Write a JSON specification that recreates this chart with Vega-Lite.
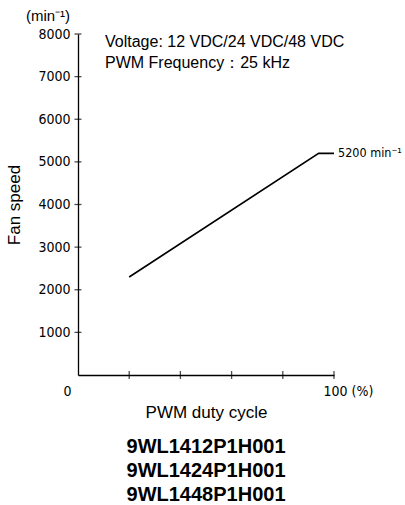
{
  "$schema": "https://vega.github.io/schema/vega-lite/v6.json",
  "width": 256,
  "height": 341,
  "autosize": {"type": "none"},
  "padding": {"left": 78, "top": 34, "right": 71, "bottom": 130},
  "background": "white",
  "config": {"view": {"stroke": null}, "font": "Liberation Sans"},
  "title": {
    "text": ["9WL1412P1H001", "9WL1424P1H001", "9WL1448P1H001"],
    "orient": "bottom",
    "anchor": "middle",
    "font": "Liberation Sans",
    "fontSize": 20,
    "fontWeight": "bold",
    "lineHeight": 24,
    "color": "black",
    "offset": 17
  },
  "datasets": {
    "curve": [
      {"duty": 20, "speed": 2300},
      {"duty": 94, "speed": 5200},
      {"duty": 100, "speed": 5200}
    ],
    "endLabel": [{"duty": 100, "speed": 5200, "label": "5200 min⁻¹"}],
    "yticks": [
      {"speed": 1000}, {"speed": 2000}, {"speed": 3000}, {"speed": 4000},
      {"speed": 5000}, {"speed": 6000}, {"speed": 7000}, {"speed": 8000}
    ],
    "xticks": [{"duty": 20}, {"duty": 40}, {"duty": 60}, {"duty": 80}, {"duty": 100}],
    "notes": [{"lines": ["Voltage: 12 VDC/24 VDC/48 VDC", "PWM Frequency：25 kHz"]}],
    "unit": [{"label": "(min⁻¹)"}]
  },
  "layer": [
    {
      "data": {"name": "curve"},
      "mark": {"type": "line", "color": "black", "strokeWidth": 1.6},
      "encoding": {
        "x": {
          "field": "duty",
          "type": "quantitative",
          "scale": {"domain": [0, 100], "nice": false, "zero": false},
          "axis": {
            "values": [0, 100],
            "labelExpr": "datum.value == 0 ? '0' : '100 (%)'",
            "ticks": false,
            "grid": false,
            "domainColor": "black",
            "domainWidth": 1.3,
            "labelFont": "DejaVu Sans Condensed",
            "labelFontSize": 14,
            "labelColor": "black",
            "labelPadding": 9,
            "labelAlign": "left",
            "labelOffset": {"expr": "datum.value == 0 ? -15 : -11"},
            "labelFlush": false,
            "labelOverlap": false,
            "title": "PWM duty cycle",
            "titleFont": "Liberation Sans",
            "titleFontSize": 17,
            "titleFontWeight": "normal",
            "titleColor": "black",
            "titlePadding": 6
          }
        },
        "y": {
          "field": "speed",
          "type": "quantitative",
          "scale": {"domain": [0, 8000], "nice": false},
          "axis": {
            "values": [1000, 2000, 3000, 4000, 5000, 6000, 7000, 8000],
            "format": "d",
            "ticks": false,
            "grid": false,
            "domainColor": "black",
            "domainWidth": 1.3,
            "labelFont": "DejaVu Sans Condensed",
            "labelFontSize": 14,
            "labelColor": "black",
            "labelPadding": 8,
            "labelOverlap": false,
            "title": "Fan speed",
            "titleFont": "Liberation Sans",
            "titleFontSize": 17,
            "titleFontWeight": "normal",
            "titleColor": "black",
            "titlePadding": 14
          }
        }
      }
    },
    {
      "data": {"name": "endLabel"},
      "mark": {"type": "text", "align": "left", "baseline": "middle", "dx": 4, "font": "DejaVu Sans Condensed", "fontSize": 12.5, "color": "black"},
      "encoding": {
        "x": {"field": "duty", "type": "quantitative"},
        "y": {"field": "speed", "type": "quantitative"},
        "text": {"field": "label", "type": "nominal"}
      }
    },
    {
      "data": {"name": "yticks"},
      "mark": {"type": "tick", "orient": "horizontal", "size": 7, "thickness": 1.3, "color": "black"},
      "encoding": {
        "x": {"datum": 0, "type": "quantitative"},
        "y": {"field": "speed", "type": "quantitative"}
      }
    },
    {
      "data": {"name": "xticks"},
      "mark": {"type": "tick", "orient": "vertical", "size": 8, "thickness": 1.3, "color": "black"},
      "encoding": {
        "x": {"field": "duty", "type": "quantitative"},
        "y": {"datum": 0, "type": "quantitative"}
      }
    },
    {
      "data": {"name": "notes"},
      "mark": {"type": "text", "align": "left", "baseline": "middle", "dx": 27, "dy": 8, "font": "Liberation Sans", "fontSize": 16, "lineHeight": 21, "color": "black"},
      "encoding": {
        "x": {"datum": 0, "type": "quantitative"},
        "y": {"datum": 8000, "type": "quantitative"},
        "text": {"field": "lines"}
      }
    },
    {
      "data": {"name": "unit"},
      "mark": {"type": "text", "align": "center", "baseline": "middle", "dx": -30, "dy": -18, "font": "Liberation Sans", "fontSize": 15, "color": "black"},
      "encoding": {
        "x": {"datum": 0, "type": "quantitative"},
        "y": {"datum": 8000, "type": "quantitative"},
        "text": {"field": "label", "type": "nominal"}
      }
    }
  ]
}
